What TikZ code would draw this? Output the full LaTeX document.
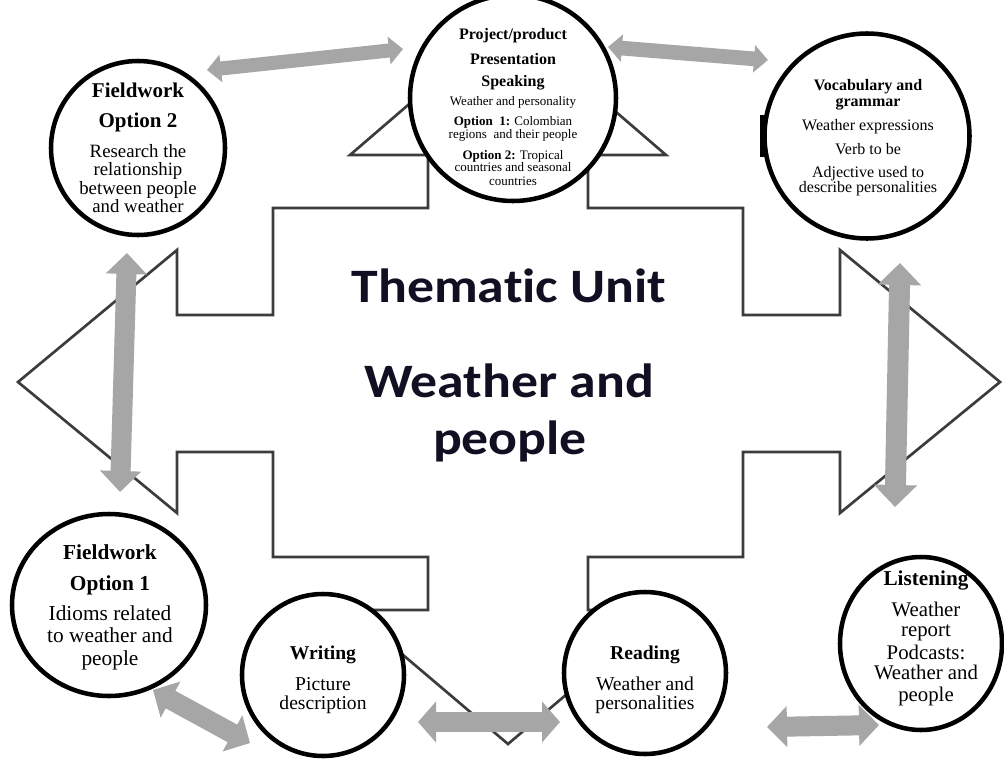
\documentclass[tikz,border=0pt]{standalone}
\usepackage{fontspec}
\usepackage{graphicx}
\setmainfont{Liberation Serif}
\newfontfamily\ctrfont[Ligatures=NoCommon]{Carlito}
\usetikzlibrary{arrows.meta,shapes.geometric}
\definecolor{arrgray}{RGB}{166,166,166}
\definecolor{shapegray}{RGB}{60,60,60}
\definecolor{titleblue}{RGB}{16,16,34}
\begin{document}
\begin{tikzpicture}[x=0.75pt,y=-0.75pt,
  bubble/.style={draw=black, line width=3.4pt, fill=white, ellipse, inner sep=0pt},
  lbl/.style={anchor=base, inner sep=0pt, text=black},
  dbl/.style n args={3}{draw=arrgray, line width=#1,
     arrows={Triangle[width=#2,length=#3]-Triangle[width=#2,length=#3]}},
  topH/.style={lbl, font=\fontsize{12pt}{12pt}\selectfont\bfseries},
  topB/.style={lbl, font=\fontsize{9.75pt}{9.75pt}\selectfont},
  fwtH/.style={lbl, font=\fontsize{15.75pt}{15.75pt}\selectfont\bfseries},
  fwtB/.style={lbl, font=\fontsize{14.1pt}{14.1pt}\selectfont},
  vocH/.style={lbl, font=\fontsize{12pt}{12pt}\selectfont\bfseries},
  vocB/.style={lbl, font=\fontsize{12pt}{12pt}\selectfont},
  fwoH/.style={lbl, font=\fontsize{16pt}{16pt}\selectfont\bfseries},
  fwoB/.style={lbl, font=\fontsize{16pt}{16pt}\selectfont},
  wrH/.style={lbl, font=\fontsize{14.7pt}{14.7pt}\selectfont\bfseries},
  wrB/.style={lbl, font=\fontsize{14.7pt}{14.7pt}\selectfont},
  liH/.style={lbl, font=\fontsize{15.9pt}{15.9pt}\selectfont\bfseries},
  liB/.style={lbl, font=\fontsize{15.6pt}{15.6pt}\selectfont},
  ctr/.style={anchor=base, inner sep=0pt, text=titleblue, font=\fontsize{36pt}{36pt}\selectfont\ctrfont\bfseries},
  outline/.style={draw=shapegray, line width=2pt, line join=miter}
]
\useasboundingbox (0,0) rectangle (1004,764);
\fill[white] (0,0) rectangle (1004,764);

% central cross-shaped four-way arrow
\draw[outline] (508,19) -- (666,155) -- (588,155) -- (588,208) -- (743,208) -- (743,315)
  -- (840,315) -- (840,250) -- (1000,382) -- (840,513) -- (840,452) -- (743,452)
  -- (743,557) -- (588,557) -- (588,610) -- (666,610) -- (508,744) -- (350,610)
  -- (428,610) -- (428,557) -- (273,557) -- (273,452) -- (177,452) -- (177,513)
  -- (18,382) -- (177,250) -- (177,315) -- (273,315) -- (273,208) -- (428,208)
  -- (428,155) -- (350,155) -- cycle;

% central title
\node[ctr] (title1) at (509,302.5) {\scalebox{1.12}[1]{Thematic Unit}};
\node[ctr] (title2) at (509,397) {\scalebox{1.12}[1]{Weather and}};
\node[ctr] (title3) at (510,454) {\scalebox{1.12}[1]{people}};

% double arrows
\coordinate (a1l) at (207,70);  \coordinate (a1r) at (403,49);
\coordinate (a2l) at (608,47);  \coordinate (a2r) at (768,60);
\coordinate (a3t) at (127,253); \coordinate (a3b) at (120,492);
\coordinate (a4t) at (900,263); \coordinate (a4b) at (895,507);
\coordinate (a5l) at (153,690); \coordinate (a5r) at (250,743);
\coordinate (a6l) at (418,722); \coordinate (a6r) at (560,722);
\coordinate (a7l) at (767,727); \coordinate (a7r) at (879,725);
\draw[dbl={10.5pt}{20.25pt}{10.5pt}] (a1l) -- (a1r);
\draw[dbl={11pt}{20pt}{10.5pt}] (a2l) -- (a2r);
\draw[dbl={15pt}{30pt}{15.75pt}] (a3t) -- (a3b);
\draw[dbl={15.75pt}{31.5pt}{16.5pt}] (a4t) -- (a4b);
\draw[dbl={15pt}{30pt}{15pt}] (a5l) -- (a5r);
\draw[dbl={15pt}{30pt}{13.5pt}] (a6l) -- (a6r);
\draw[dbl={15pt}{30pt}{15pt}] (a7l) -- (a7r);

% bubbles
\node[bubble, minimum width=154.5pt, minimum height=154.5pt] (proj) at (513,98) {};
\node[bubble, minimum width=130.5pt, minimum height=130.5pt] (fw2) at (138,148) {};
\node[bubble, minimum width=153.75pt, minimum height=153.75pt] (voc) at (867,136) {};
\node[bubble, minimum width=145.5pt, minimum height=136.5pt] (fw1) at (109,605) {};
\node[bubble, minimum width=121.5pt, minimum height=121.5pt] (wri) at (323,675) {};
\node[bubble, minimum width=121.5pt, minimum height=121.5pt] (rea) at (645,673) {};
\node[bubble, minimum width=121.5pt, minimum height=129.75pt] (lis) at (921,643.5) {};
% small thick mark on the left edge of the vocabulary circle
\fill[black] (760,115) rectangle (764.5,157);

% Project/product circle
\node[topH] (p1) at (513,39.5) {Project/product};
\node[topH] (p2) at (513,64) {Presentation};
\node[topH] (p3) at (513,86.5) {Speaking};
\node[topB] (p4) at (513,105) {Weather and personality};
\node[topB] (p5) at (513,125.5) {\textbf{Option~ 1:} Colombian};
\node[topB] (p6) at (513,138) {regions~ and their people};
\node[topB] (p7) at (513,159) {\textbf{Option 2:} Tropical};
\node[topB] (p8) at (513,171.5) {countries and seasonal};
\node[topB] (p9) at (513,185.5) {countries};

% Fieldwork option 2
\node[fwtH] (f21) at (138,97) {Fieldwork};
\node[fwtH] (f22) at (138,127) {Option 2};
\node[fwtB] (f23) at (138,157) {Research the};
\node[fwtB] (f24) at (138,175.5) {relationship};
\node[fwtB] (f25) at (138,194) {between people};
\node[fwtB] (f26) at (138,212.5) {and weather};

% Vocabulary and grammar
\node[vocH] (v1) at (868,90.5) {Vocabulary and};
\node[vocH] (v2) at (868,106) {grammar};
\node[vocB] (v3) at (868,130) {Weather expressions};
\node[vocB] (v4) at (868,154) {Verb to be};
\node[vocB] (v5) at (868,177) {Adjective used to};
\node[vocB] (v6) at (868,192) {describe personalities};

% Fieldwork option 1
\node[fwoH] (f11) at (110,559) {Fieldwork};
\node[fwoH] (f12) at (110,590.5) {Option 1};
\node[fwoB] (f13) at (110,620.5) {Idioms related};
\node[fwoB] (f14) at (110,642.5) {to weather and};
\node[fwoB] (f15) at (110,665) {people};

% Writing
\node[wrH] (w1) at (323,659) {Writing};
\node[wrB] (w2) at (323,690.5) {Picture};
\node[wrB] (w3) at (323,709) {description};

% Reading
\node[wrH] (r1) at (645,659) {Reading};
\node[wrB] (r2) at (645,690.5) {Weather and};
\node[wrB] (r3) at (645,709) {personalities};

% Listening
\node[liH] (l1) at (926,585) {Listening};
\node[liB] (l2) at (926,616.5) {Weather};
\node[liB] (l3) at (926,636.5) {report};
\node[liB] (l4) at (926,659) {Podcasts:};
\node[liB] (l5) at (926,679.5) {Weather and};
\node[liB] (l6) at (926,701) {people};
\end{tikzpicture}
\end{document}
